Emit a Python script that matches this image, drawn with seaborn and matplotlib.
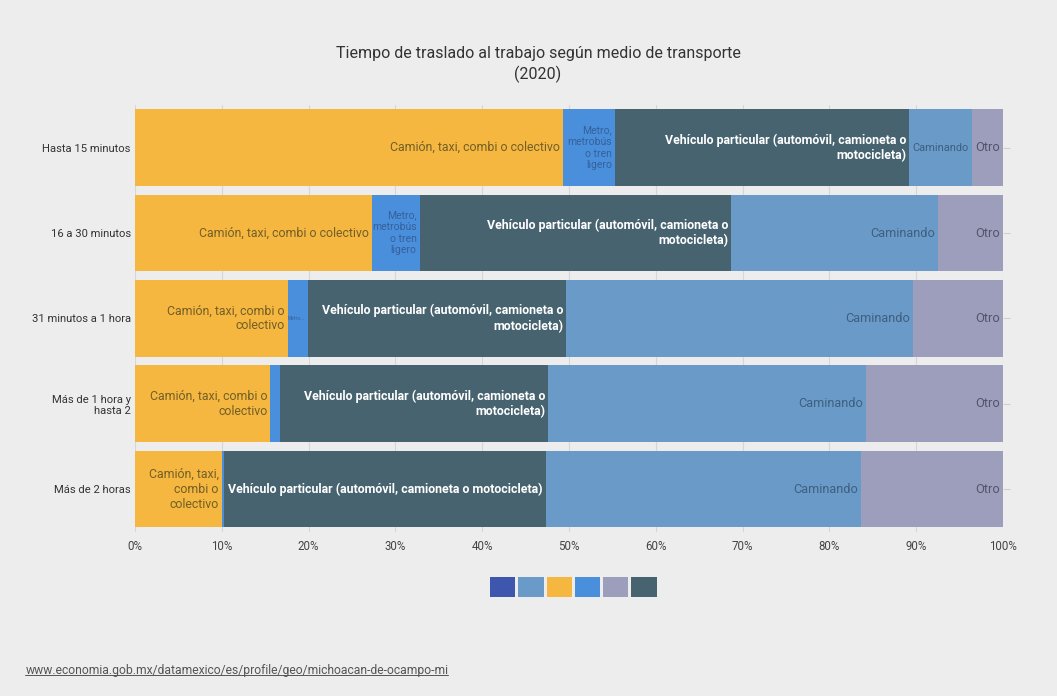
import matplotlib
matplotlib.use("Agg")
import matplotlib.pyplot as plt
import seaborn as sns
import numpy as np
import pandas as pd
from matplotlib.patches import Patch
from matplotlib.lines import Line2D

categories = ["Hasta 15 minutos", "16 a 30 minutos", "31 minutos a 1 hora",
              "Más de 1 hora y\nhasta 2", "Más de 2 horas"]
series_names = ["Camión, taxi, combi o colectivo", "Metro, metrobús o tren ligero",
                "Vehículo particular (automóvil, camioneta o motocicleta)",
                "Caminando", "Otro"]
camion = [49.3, 27.3, 17.6, 15.6, 10.0]
metro = [6.0, 5.5, 2.3, 1.1, 0.25]
vehiculo = [33.9, 35.9, 29.8, 30.9, 37.1]
caminando = [7.2, 23.8, 39.9, 36.6, 36.3]
otro = [3.6, 7.5, 10.4, 15.8, 16.4]
xtick_vals = [0, 10, 20, 30, 40, 50, 60, 70, 80, 90, 100]
xtick_labels = [f"{v}%" for v in xtick_vals]

colors = ["#F5B73F", "#4A8FDC", "#46636F", "#6A9BC8", "#9D9EBC"]
legend_colors = ["#3F56AE", "#6A9BC8", "#F5B73F", "#4A8FDC", "#9D9EBC", "#46636F"]
text_colors = ["#735F28", "#35609A", "#FFFFFF", "#3E5F80", "#4F566C"]
text_sizes = [
    [8.9] * 5,
    [7.5, 7.5, 3.5, 7.5, 7.5],
    [8.9] * 5,
    [7.9, 9.2, 9.2, 9.2, 9.2],
    [9.3] * 5,
]
text_weights = ["normal", "normal", "bold", "normal", "normal"]

labels = [
    ["Camión, taxi, combi o colectivo", "Camión, taxi, combi o colectivo",
     "Camión, taxi, combi o\ncolectivo", "Camión, taxi, combi o\ncolectivo",
     "Camión, taxi,\ncombi o\ncolectivo"],
    ["Metro,\nmetrobús\no tren\nligero", "Metro,\nmetrobús\no tren\nligero", "Metro...", "", ""],
    ["Vehículo particular (automóvil, camioneta o\nmotocicleta)"] * 4
    + ["Vehículo particular (automóvil, camioneta o motocicleta)"],
    ["Caminando"] * 5,
    ["Otro"] * 5,
]

sns.set_theme(style="white")
plt.rcParams["font.family"] = ["Roboto", "DejaVu Sans"]

BG = "#EDEDED"
fig = plt.figure(figsize=(10.57, 6.96), dpi=100, facecolor=BG)
ax = fig.add_axes([0.1277, 0.236, 0.8212, 0.613])
ax.set_facecolor(BG)

data = np.array([camion, metro, vehiculo, caminando, otro])
cum = np.cumsum(data, axis=0)

ax.set_axisbelow(True)
ax.grid(axis="x", color="#D6D6D6", linewidth=0.8)

for i in range(len(series_names) - 1, -1, -1):
    df = pd.DataFrame({"cat": categories, "val": cum[i]})
    sns.barplot(data=df, x="val", y="cat", color=colors[i], width=0.9,
                orient="h", ax=ax, saturation=1, linewidth=0, zorder=2)

# segment labels
for i in range(len(series_names)):
    for j, cat in enumerate(categories):
        txt = labels[i][j]
        if not txt:
            continue
        ax.text(cum[i][j] - 0.35, j, txt, ha="right", va="center",
                fontsize=text_sizes[i][j],
                color=text_colors[i], fontweight=text_weights[i],
                linespacing=1.2, zorder=3, clip_on=False)

ax.set_xlim(0, 100)
ax.set_ylim(4.5, -0.5)
ax.set_xticks(xtick_vals)
ax.set_xticklabels(xtick_labels, fontsize=8.3, color="#444444")
ax.set_yticks(range(len(categories)))
ax.set_yticklabels(categories, fontsize=8.1, color="#333333")
ax.set_xlabel("")
ax.set_ylabel("")
ax.tick_params(axis="y", left=False, right=True, labelleft=True, labelright=False,
               length=5, width=0.8, color="#D0D0D0", pad=-2)
ax.tick_params(axis="x", length=0, pad=6)
for s in ax.spines.values():
    s.set_visible(False)

fig.text(0.509, 0.908, "Tiempo de traslado al trabajo según medio de transporte\n(2020)",
         ha="center", va="center", fontsize=11.5, color="#333333", linespacing=1.35)

handles = [Patch(facecolor=c, edgecolor="none") for c in legend_colors]
leg = ax.legend(handles, [""] * 6, ncol=6, loc="upper center",
                bbox_to_anchor=(0.505, -0.087), frameon=False,
                handlelength=1.65, handleheight=1.65, columnspacing=0.2,
                handletextpad=0.0, borderpad=0)

url = fig.text(0.024, 0.028, "www.economia.gob.mx/datamexico/es/profile/geo/michoacan-de-ocampo-mi",
               ha="left", va="bottom", fontsize=8.7, color="#555555")
fig.canvas.draw()
bb = url.get_window_extent().transformed(fig.transFigure.inverted())
fig.add_artist(Line2D([bb.x0, bb.x1], [bb.y0 + 0.002, bb.y0 + 0.002],
                      transform=fig.transFigure, color="#555555", linewidth=0.7))

fig.savefig("out.png", dpi=100, facecolor=BG)
